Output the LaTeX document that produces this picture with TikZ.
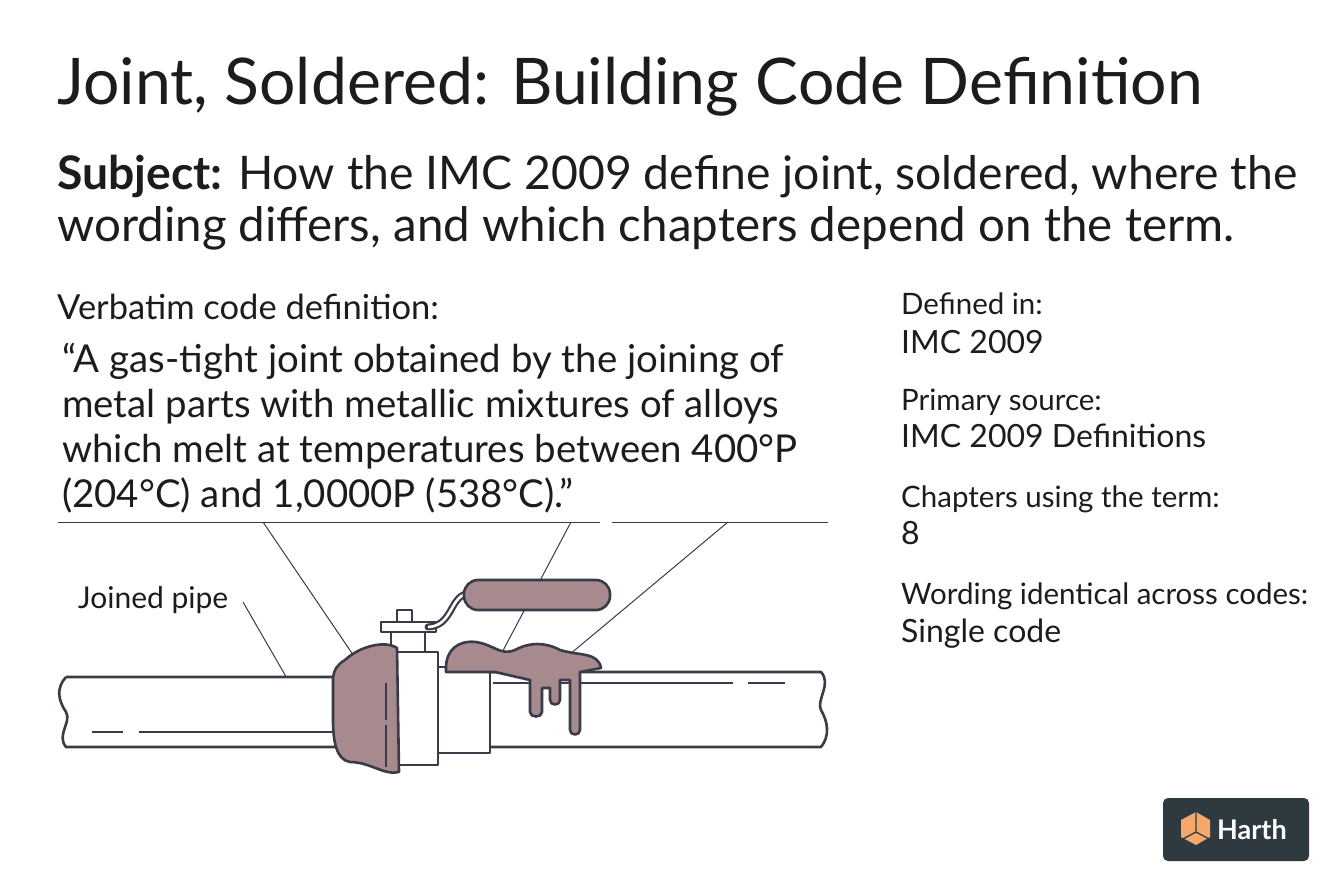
\documentclass[tikz,border=0pt]{standalone}
\usepackage{fontspec}
\setmainfont{Lato}
\usetikzlibrary{positioning}
\definecolor{ink}{HTML}{1C1C1E}
\definecolor{pipeline}{HTML}{3A3A48}
\definecolor{solder}{HTML}{A68A8E}
\definecolor{badge}{HTML}{2F3A40}
\definecolor{cube}{HTML}{F4A96B}
\tikzset{
  lbl/.style={anchor=base west,inner sep=0pt,text=ink,font=\fontsize{29.5}{34}\selectfont},
  val/.style={anchor=base west,inner sep=0pt,text=ink,font=\fontsize{32}{38}\selectfont},
  pipe/.style={draw=pipeline,line width=2.6pt,fill=white,line join=round},
  blob/.style={draw=pipeline,line width=2.6pt,fill=solder,line join=round},
  leader/.style={draw=pipeline,line width=1pt}
}
\begin{document}
\begin{tikzpicture}[x=1pt,y=-1pt]
\useasboundingbox (0,0) rectangle (1344,896);
% headings
\node[anchor=base west,inner sep=0pt,text=ink,font=\fontsize{64.3}{70}\selectfont] (title) at (57,105) {Joint, Soldered: Building Code Definition};
\node[anchor=base west,inner sep=0pt,text=ink,font=\fontsize{46.3}{54}\selectfont] (subj1) at (57,190) {\textbf{Subject:} How the IMC 2009 define joint, soldered, where the};
\node[anchor=base west,inner sep=0pt,text=ink,font=\fontsize{47.5}{54}\selectfont] (subj2) at (57,241) {wording differs, and which chapters depend on the term.};
% definition
\node[lbl,font=\fontsize{34.5}{40}\selectfont] (verb) at (57,319) {Verbatim code definition:};
\foreach \i/\t in {0/{“A gas-tight joint obtained by the joining of},
                   1/{metal parts with metallic mixtures of alloys},
                   2/{which melt at temperatures between 400°P},
                   3/{(204°C) and 1,0000P (538°C).”}}
  \node[val,font=\fontsize{38.4}{44}\selectfont] (q\i) at (62,372+45*\i) {\t};
% facts column
\node[lbl] (f1) at (901,314) {Defined in:};
\node[val] (v1) at (901,353) {IMC 2009};
\node[lbl] (f2) at (901,410) {Primary source:};
\node[val] (v2) at (901,447) {IMC 2009 Definitions};
\node[lbl] (f3) at (901,507) {Chapters using the term:};
\node[val] (v3) at (901,544) {8};
\node[lbl] (f4) at (901,604) {Wording identical across codes:};
\node[val] (v4) at (901,642) {Single code};
% rules and leaders
\draw[leader] (58,522) -- (600,522) (612,522) -- (828,522);
\draw[leader] (263,522) -- (362,668) (571,522) -- (498,660) (728,522) -- (563,660);
\node[lbl,font=\fontsize{30}{36}\selectfont] (joined) at (78,608) {Joined pipe};
\draw[leader] (243,602) -- (296,694);
% left pipe
\draw[pipe] (66,677) -- (340,677) -- (340,747) -- (66,747)
  .. controls (56,735) and (72,722) .. (66,712) .. controls (58,700) and (56,688) .. (66,677);
\draw[pipeline,line width=2.2pt] (92,732) -- (123,732) (139,732) -- (336,732);
% right pipe
\draw[pipe] (480,672) -- (821,672) .. controls (832,684) and (816,700) .. (821,710)
  .. controls (828,722) and (830,736) .. (821,747) -- (480,747) -- cycle;
\draw[pipeline,line width=2.2pt] (493,683) -- (733,683) (748,683) -- (785,683);
% second sleeve
\draw[pipe] (438,667) rectangle (490,753);
% valve body and stem
\draw[pipe] (397,610) rectangle (412,622);
\draw[pipe] (381,622) rectangle (436,632);
\draw[pipe] (391,632) rectangle (425,652);
\draw[pipeline,line width=7pt,line cap=round] (428,627) .. controls (452,626) and (450,598) .. (466,594);
\draw[white,line width=2.6pt] (428,627) .. controls (452,626) and (450,598) .. (466,594);
\draw[pipe] (397,652) rectangle (438,765);
% handle
\draw[blob,rounded corners=14pt] (464,580) rectangle (610,610);
% left solder blob
\draw[blob] (345,660) .. controls (360,646) and (385,640) .. (397,648) -- (399,772)
  .. controls (385,776) and (370,762) .. (350,762) .. controls (336,760) and (333,740) .. (333,720)
  -- (333,680) .. controls (333,670) and (338,664) .. (345,660) -- cycle;
\draw[pipeline,line width=1.6pt] (386,683) -- (386,720) (386,725) -- (386,767);
% solder pool with drips
\draw[blob] (446,668) .. controls (446,650) and (458,640) .. (476,642)
  .. controls (495,645) and (500,656) .. (515,650) .. controls (530,642) and (545,642) .. (560,650)
  .. controls (580,656) and (598,652) .. (601,668) -- (580,672) -- (580,730)
  .. controls (580,736) and (570,736) .. (570,730) -- (570,680) -- (560,680) -- (560,700)
  .. controls (560,706) and (550,706) .. (550,700) -- (550,688) -- (542,688) -- (542,712)
  .. controls (542,718) and (530,718) .. (530,712) -- (530,680) -- (495,672) -- (446,672) -- cycle;
% badge
\fill[badge,rounded corners=5pt] (1163,798) rectangle (1309,861);
\fill[cube] (1196,812) -- (1210,820) -- (1210,837) -- (1196,845) -- (1181,837) -- (1181,820) -- cycle;
\draw[badge,line width=1.3pt] (1196,812) -- (1196,832) -- (1181,840) (1196,832) -- (1211,840);
\node[anchor=west,inner sep=0pt,text=white,font=\bfseries\fontsize{27}{30}\selectfont] (brand) at (1217,830) {Harth};
\end{tikzpicture}
\end{document}
